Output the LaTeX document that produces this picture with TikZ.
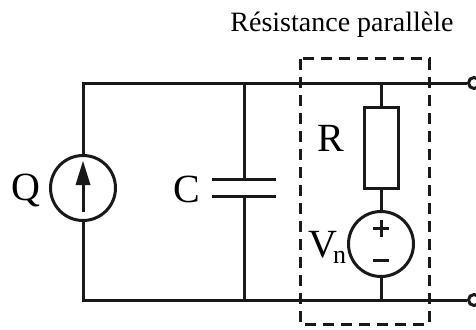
\documentclass[tikz,border=0pt]{standalone}
\usepackage{fontspec}
\setmainfont{Liberation Serif}
\usetikzlibrary{arrows.meta}
\tikzset{
  wire/.style={line width=3pt,black!90},
  comp/.style={draw=black!90,line width=3pt,fill=white,inner sep=0pt,outer sep=0pt},
  src/.style={comp,circle,minimum size=65pt},
  term/.style={draw=black!90,line width=3pt,fill=white,circle,inner sep=0pt,minimum size=11pt},
  lab/.style={inner sep=0pt,font=\fontsize{40}{40}\selectfont},
  fence/.style={draw=black!90,line width=3pt,dash pattern=on 11pt off 7pt}
}
\begin{document}
\begin{tikzpicture}[x=1pt,y=-1pt]
\path[use as bounding box] (0,0) rectangle (476,329);
\clip (0,0) rectangle (476,329);
\coordinate (tl) at (83,83);
\coordinate (bl) at (83,300);
\coordinate (ct) at (244,83);
\coordinate (cb) at (244,300);
\coordinate (rt) at (381,83);
\coordinate (rb) at (381,300);
\node[term] (t1) at (474,83) {};
\node[term] (t2) at (474,300) {};
\draw[wire] (t1) -- (tl) -- (bl) -- (t2);
\node[src] (q) at (83,188) {};
\draw[line width=3pt,black!90] (83,212) -- (83,175);
\fill[black!90] (83,161) -- (90.5,185) -- (75.5,185) -- cycle;
\coordinate (p1) at (244,179);
\coordinate (p2) at (244,196);
\draw[wire] (ct) -- (p1);
\draw[wire] (p2) -- (cb);
\draw[wire] (212,179) -- (276,179);
\draw[wire] (212,196) -- (276,196);
\node[comp,minimum width=34pt,minimum height=81pt] (r) at (381,147.5) {};
\node[src] (v) at (381,244) {};
\draw[wire] (rt) -- (r);
\draw[wire] (r) -- (v);
\draw[wire] (v) -- (rb);
\draw[line width=3pt,black!90] (381,220) -- (381,237) (373,228.5) -- (389,228.5);
\draw[line width=3pt,black!90] (373,260) -- (389,260);
\draw[fence] (300,59) rectangle (429,324);
\node[lab] (lq) at (26,190) {Q};
\node[lab] (lc) at (187,189) {C};
\node[lab] (lr) at (331,138) {R};
\node[lab,anchor=base west] (lv) at (308,257) {V\kern-4pt\raisebox{-6pt}{\fontsize{26}{26}\selectfont n}};
\node[inner sep=0pt,font=\fontsize{28}{28}\selectfont] (ttl) at (342,25) {Résistance parallèle};
\end{tikzpicture}
\end{document}
